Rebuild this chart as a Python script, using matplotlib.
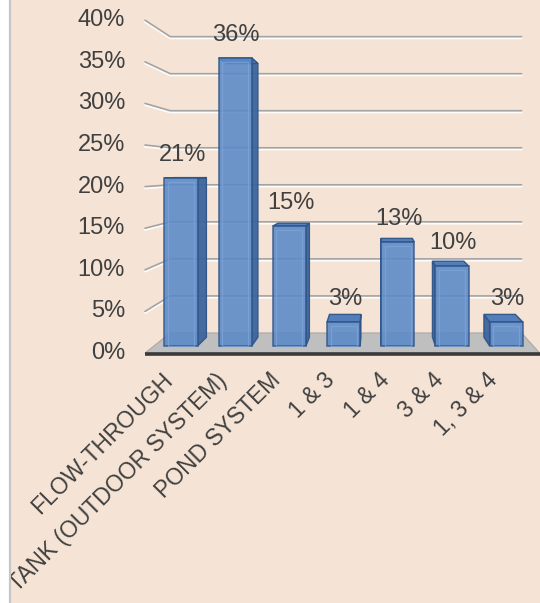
import matplotlib
matplotlib.use("Agg")
import matplotlib.pyplot as plt
import matplotlib.patheffects as pe
from matplotlib.patches import Polygon, Rectangle
from matplotlib.lines import Line2D

# ---- data ----
categories = ["FLOW-THROUGH", "TANK (OUTDOOR SYSTEM)", "POND SYSTEM",
              "1 & 3", "1 & 4", "3 & 4", "1, 3 & 4"]
shares = [21, 36, 15, 3, 13, 10, 3]
value_labels = ["21%", "36%", "15%", "3%", "13%", "10%", "3%"]
y_ticks = [0, 5, 10, 15, 20, 25, 30, 35, 40]
y_tick_labels = ["0%", "5%", "10%", "15%", "20%", "25%", "30%", "35%", "40%"]

# ---- style ----
BG = "#F5E4D5"
TEXT = "#404040"
FRONT = "#5A89C8"
SIDE = "#3C659E"
TOP = "#4B79B8"
EDGE = "#2F5588"
GRID = "#A3A3A3"
FLOOR = "#BFBFBF"
FONT = ["Liberation Sans", "DejaVu Sans"]
plt.rcParams["font.family"] = FONT

W, H, DPI = 540, 603, 100
fig = plt.figure(figsize=(W / DPI, H / DPI), dpi=DPI)
fig.patch.set_facecolor(BG)

# white margin strip with a thin border on the left
fig.patches.append(Rectangle((0, 0), 9 / W, 1, transform=fig.transFigure,
                             facecolor="white", edgecolor="none", zorder=0))
fig.lines.append(Line2D([9.5 / W, 9.5 / W], [0, 1], transform=fig.transFigure,
                        color="#C6C6C6", lw=1.6, zorder=1))

ax = fig.add_axes([0, 0, 1, 1])
ax.set_axis_off()
ax.patch.set_alpha(0)

# layout of the bar front plane (pixels)
PX_X, PX_Y = 54.2, 8.0     # px per category / px per percent
X0, Y0 = 181, 346          # px position of first category / 0% level
ax.set_xlim(-X0 / PX_X, (W - X0) / PX_X)
ax.set_ylim((Y0 - H) / PX_Y, Y0 / PX_Y)

# simple perspective: vanishing point and depth factors
VX, VY = (375 - X0) / PX_X, (Y0 - 170) / PX_Y
R_FLOOR_FRONT = 1.04
R_WALL = 0.926
R_BAR_BACK = 0.95
X_LO, X_HI = -0.5, len(categories) - 0.5
HALF = 0.305


def proj(x, y, r):
    return (VX + r * (x - VX), VY + r * (y - VY))


# wall gridlines (side wall diagonal + back wall horizontal)
grid_fx = [pe.SimpleLineShadow(offset=(0, -1.1), shadow_color="white",
                               alpha=0.9, linewidth=1.6), pe.Normal()]
for t in y_ticks[1:]:
    pts = [proj(X_LO, t, R_FLOOR_FRONT), proj(X_LO, t, R_WALL), proj(X_HI, t, R_WALL)]
    ax.plot([p[0] for p in pts], [p[1] for p in pts], color=GRID, lw=1.2,
            zorder=1, solid_capstyle="round", path_effects=grid_fx)

# floor
floor = [proj(X_LO, 0, R_FLOOR_FRONT), proj(X_HI, 0, R_FLOOR_FRONT),
         proj(X_HI, 0, R_WALL), proj(X_LO, 0, R_WALL)]
ax.add_patch(Polygon(floor, closed=True, facecolor=FLOOR, edgecolor="#A9A9A9",
                     lw=0.8, zorder=2))
fl, fr = proj(X_LO, 0, R_FLOOR_FRONT), proj(X_HI, 0, R_FLOOR_FRONT)
ax.plot([fl[0], fr[0]], [fl[1] - 0.15, fr[1] - 0.15], color="#3A3A3A", lw=2.6,
        zorder=2.5, solid_capstyle="butt")

# side and top faces of the bars
for i, v in enumerate(shares):
    xl, xr = i - HALF, i + HALF
    xs = xr if i < VX else xl
    side = [proj(xs, 0, 1), proj(xs, v, 1), proj(xs, v, R_BAR_BACK), proj(xs, 0, R_BAR_BACK)]
    ax.add_patch(Polygon(side, closed=True, facecolor=SIDE, edgecolor=EDGE,
                         lw=1.0, alpha=0.95, zorder=3))
    top = [proj(xl, v, 1), proj(xr, v, 1), proj(xr, v, R_BAR_BACK), proj(xl, v, R_BAR_BACK)]
    ax.add_patch(Polygon(top, closed=True, facecolor=TOP, edgecolor=EDGE,
                         lw=1.0, alpha=0.95, zorder=3.2))

# front faces
x = list(range(len(categories)))
ax.bar(x, shares, width=2 * HALF, color=FRONT, edgecolor=EDGE, linewidth=1.1,
       alpha=0.88, zorder=4)
# soft inner bevel on the front faces
for i, v in enumerate(shares):
    ix, iy = 3.5 / PX_X, 3.5 / PX_Y
    ax.add_patch(Rectangle((i - HALF + ix, 0), 2 * HALF - 2 * ix, max(v - iy, 0),
                           facecolor="none", edgecolor="#7FA6DA", lw=0.9,
                           alpha=0.7, zorder=4.5))

# value labels
for i, (v, lbl) in enumerate(zip(shares, value_labels)):
    ax.annotate(lbl, xy=(i, v), xytext=(0.8, 17 * 72 / DPI), textcoords="offset points",
                ha="center", va="baseline", fontsize=17, color=TEXT, zorder=6)

# y tick labels on the front edge of the side wall
for t, lbl in zip(y_ticks, y_tick_labels):
    px, py = proj(X_LO, t, R_FLOOR_FRONT)
    ax.annotate(lbl, xy=(px, py), xytext=(-20 * 72 / DPI, 0), textcoords="offset points",
                ha="right", va="center", fontsize=17, color=TEXT, zorder=6)

# category labels
for i, lbl in enumerate(categories):
    ax.annotate(lbl, xy=(i, 0), xytext=(-12 * 72 / DPI, -31 * 72 / DPI),
                textcoords="offset points", ha="right", va="center",
                rotation=45, rotation_mode="anchor", fontsize=16.5,
                color=TEXT, zorder=6)

fig.savefig("out.png", dpi=DPI, facecolor=BG)
